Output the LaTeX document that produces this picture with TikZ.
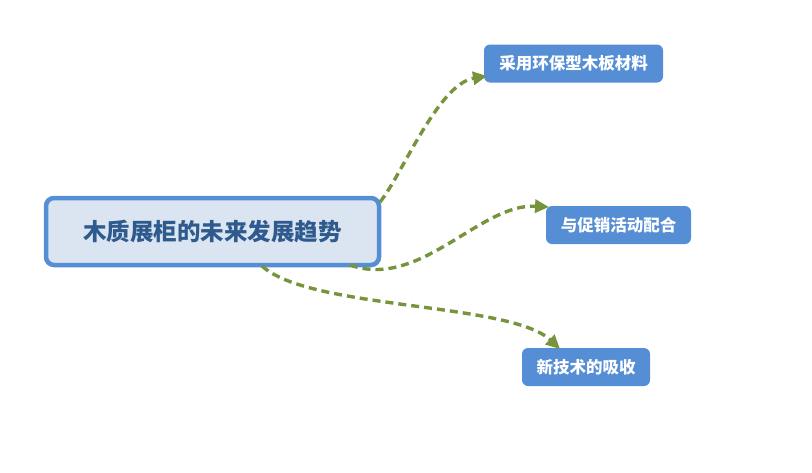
\documentclass[tikz,border=0pt]{standalone}
\usepackage{fontspec}
\newfontfamily\cjk{Noto Sans CJK SC}
\usetikzlibrary{arrows.meta}
\definecolor{mainfill}{HTML}{DBE5F1}
\definecolor{mainborder}{HTML}{558ED5}
\definecolor{maintext}{HTML}{2F5A8E}
\definecolor{childfill}{HTML}{558ED5}
\definecolor{linkgreen}{HTML}{77933C}
\tikzset{
  mainbox/.style={draw=mainborder, line width=4.5pt, fill=mainfill, rounded corners=8pt,
    minimum width=333pt, minimum height=67pt, inner sep=0pt,
    font=\cjk\bfseries\fontsize{23.5pt}{26pt}\selectfont, text=maintext},
  childbox/.style={fill=childfill, rounded corners=6pt, inner sep=0pt,
    minimum height=38pt, font=\cjk\bfseries\fontsize{16.5pt}{19pt}\selectfont, text=white},
  link/.style={draw=linkgreen, line width=3.4pt, dash pattern=on 8pt off 5pt,
    -{Triangle[length=14pt,width=13pt,fill=linkgreen]}}
}
\begin{document}
\begin{tikzpicture}[x=1pt,y=-1pt]
\useasboundingbox (0,0) rectangle (812,472);
\node[mainbox] (main) at (212.5,231.5) {木质展柜的未来发展趋势};
\node[childbox, minimum width=179pt] (c1) at (573.5,63.5) {采用环保型木板材料};
\node[childbox, minimum width=145pt] (c2) at (618.5,225) {与促销活动配合};
\node[childbox, minimum width=128pt] (c3) at (586,367) {新技术的吸收};
\coordinate (s1) at (380,202);
\coordinate (s2) at (350,265);
\coordinate (s3) at (262,266);
\coordinate (t1) at (487,76);
\coordinate (t2) at (549,207);
\coordinate (t3) at (560,349);
\draw[link] (s1) .. controls (402,175) and (438,84) .. (t1);
\draw[link] (s2) .. controls (420,290) and (480,203) .. (t2);
\draw[link] (s3) .. controls (310,310) and (510,302) .. (t3);
\end{tikzpicture}
\end{document}
